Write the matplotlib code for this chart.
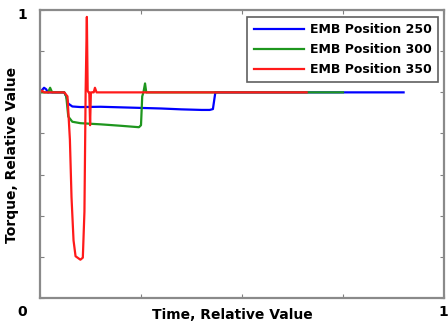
import matplotlib
matplotlib.use("Agg")
import matplotlib.pyplot as plt

# Series data (relative values)
blue_x = [0, 0.01, 0.015, 0.02, 0.03, 0.04, 0.05, 0.06, 0.065, 0.07, 0.08, 0.10, 0.15, 0.20,
          0.25, 0.30, 0.35, 0.40, 0.42, 0.428, 0.434, 0.44, 0.60, 0.90]
blue_y = [0.714, 0.73, 0.725, 0.714, 0.714, 0.714, 0.714, 0.714, 0.70, 0.675, 0.665, 0.663, 0.664, 0.662,
          0.660, 0.658, 0.655, 0.653, 0.653, 0.656, 0.714, 0.714, 0.714, 0.714]

green_x = [0, 0.02, 0.025, 0.03, 0.05, 0.06, 0.065, 0.07, 0.08, 0.10, 0.15, 0.20, 0.245, 0.25,
           0.253, 0.256, 0.26, 0.263, 0.27, 0.75]
green_y = [0.714, 0.714, 0.73, 0.714, 0.714, 0.714, 0.70, 0.63, 0.612, 0.607, 0.603, 0.598, 0.593, 0.60,
           0.70, 0.714, 0.745, 0.714, 0.714, 0.714]

red_x = [0, 0.005, 0.01, 0.04, 0.06, 0.068, 0.074, 0.078, 0.083, 0.088, 0.10, 0.106, 0.110, 0.113,
         0.116, 0.118, 0.120, 0.122, 0.124, 0.126, 0.13, 0.133, 0.136, 0.14, 0.66]
red_y = [0.714, 0.72, 0.714, 0.714, 0.714, 0.70, 0.55, 0.35, 0.20, 0.145, 0.133, 0.14, 0.30, 0.72,
         0.976, 0.72, 0.714, 0.714, 0.60, 0.714, 0.714, 0.714, 0.73, 0.714, 0.714]

labels = ["EMB Position 250", "EMB Position 300", "EMB Position 350"]
colors = ["#0000ff", "#1e961e", "#ff1a1a"]

x_ticks = [0, 0.25, 0.5, 0.75, 1.0]
y_ticks = [i / 7 for i in range(8)]

fig = plt.figure(figsize=(4.48, 3.25), dpi=100)
ax = fig.add_axes([40 / 448, 1 - 298 / 325, 404 / 448, 288 / 325])

for xs, ys, c, lab in zip([blue_x, green_x, red_x], [blue_y, green_y, red_y], colors, labels):
    ax.plot(xs, ys, color=c, lw=1.6, label=lab)

ax.set_xlim(0, 1)
ax.set_ylim(0, 1)
ax.set_xticks(x_ticks)
ax.set_yticks(y_ticks)
ax.set_xticklabels([])
ax.set_yticklabels([])
ax.tick_params(direction="in", length=3, color="#808080", top=True, right=True)
for s in ax.spines.values():
    s.set_color("#8a8a8a")
    s.set_linewidth(1.6)

leg = ax.legend(loc="upper right", prop={"weight": "bold", "size": 9}, fancybox=False,
                framealpha=1, edgecolor="#606060", handlelength=4.0, borderpad=0.5,
                labelspacing=0.55, handletextpad=0.5, borderaxespad=0,
                bbox_to_anchor=(0.985, 0.976))
leg.get_frame().set_linewidth(1.2)

fig.text(22 / 448, 1 - 15 / 325, "1", fontsize=10, fontweight="bold", ha="center", va="center")
fig.text(22 / 448, 1 - 312 / 325, "0", fontsize=10, fontweight="bold", ha="center", va="center")
fig.text(443 / 448, 1 - 312 / 325, "1", fontsize=10, fontweight="bold", ha="center", va="center")
fig.text(232 / 448, 1 - 315 / 325, "Time, Relative Value", fontsize=10, fontweight="bold",
         ha="center", va="center")
fig.text(12 / 448, 1 - 155 / 325, "Torque, Relative Value", fontsize=10, fontweight="bold",
         ha="center", va="center", rotation=90)

fig.savefig("out.png", dpi=100)
